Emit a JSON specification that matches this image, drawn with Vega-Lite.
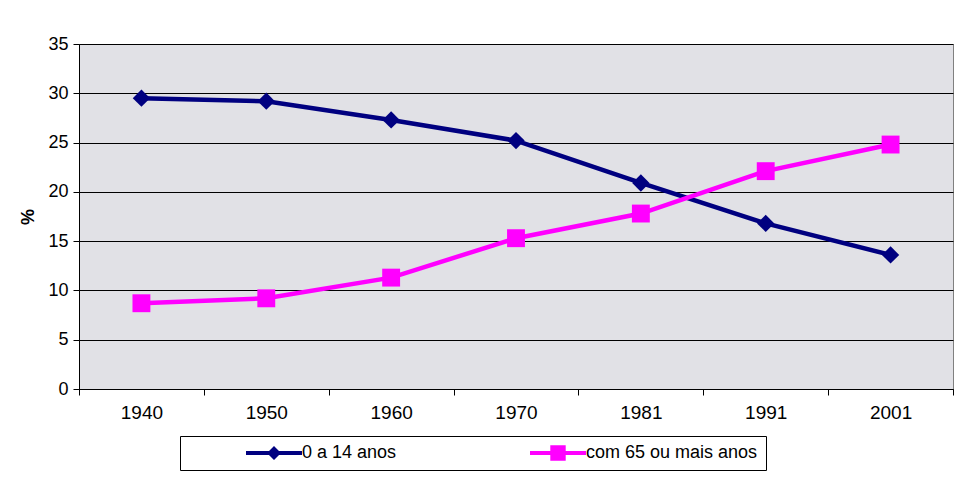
{
  "$schema": "https://vega.github.io/schema/vega-lite/v6.json",
  "width": 874,
  "height": 345,
  "autosize": {"type": "none"},
  "padding": {"left": 79, "top": 44, "right": 10, "bottom": 96},
  "background": "white",
  "config": {
    "font": "Liberation Sans",
    "view": {"fill": "#e1e1e6", "stroke": "#808080", "strokeWidth": 1},
    "legend": {
      "orient": "none", "legendX": 101, "legendY": 392, "direction": "horizontal",
      "columns": 2, "title": null, "labelFontSize": 18, "labelColor": "#000", "labelLimit": 500,
      "labelOffset": 19, "symbolOffset": 77, "columnPadding": 75, "padding": 8,
      "fillColor": "white", "strokeColor": "#000", "strokeWidth": 1,
      "symbolSize": 196, "symbolStrokeWidth": 0, "symbolOpacity": 1
    }
  },
  "data": {
    "values": [
      {"year": "1940", "series": "0 a 14 anos", "value": 29.5},
      {"year": "1950", "series": "0 a 14 anos", "value": 29.2},
      {"year": "1960", "series": "0 a 14 anos", "value": 27.3},
      {"year": "1970", "series": "0 a 14 anos", "value": 25.2},
      {"year": "1981", "series": "0 a 14 anos", "value": 20.9},
      {"year": "1991", "series": "0 a 14 anos", "value": 16.8},
      {"year": "2001", "series": "0 a 14 anos", "value": 13.6},
      {"year": "1940", "series": "com 65 ou mais anos", "value": 8.7},
      {"year": "1950", "series": "com 65 ou mais anos", "value": 9.2},
      {"year": "1960", "series": "com 65 ou mais anos", "value": 11.3},
      {"year": "1970", "series": "com 65 ou mais anos", "value": 15.3},
      {"year": "1981", "series": "com 65 ou mais anos", "value": 17.8},
      {"year": "1991", "series": "com 65 ou mais anos", "value": 22.1},
      {"year": "2001", "series": "com 65 ou mais anos", "value": 24.8}
    ]
  },
  "encoding": {
    "x": {
      "field": "year", "type": "ordinal", "sort": null,
      "scale": {"type": "band", "paddingInner": 0, "paddingOuter": 0},
      "axis": {
        "title": null, "labelAngle": 0, "labelFontSize": 19, "labelColor": "#000",
        "labelPadding": 8, "tickBand": "extent", "tickSize": 6, "tickColor": "#000",
        "domainColor": "#000", "grid": false
      }
    },
    "y": {
      "field": "value", "type": "quantitative",
      "scale": {"domain": [0, 35], "nice": false},
      "axis": {
        "title": "%", "titleFontSize": 18, "titleFontWeight": "bold", "titleColor": "#000",
        "titlePadding": 10,
        "values": [0, 5, 10, 15, 20, 25, 30, 35],
        "labelFontSize": 18, "labelColor": "#000", "labelPadding": 5,
        "tickSize": 6, "tickColor": "#000", "domainColor": "#000",
        "grid": true, "gridColor": "#000", "gridWidth": 1, "gridOpacity": 1
      }
    },
    "color": {
      "field": "series", "type": "nominal",
      "scale": {"domain": ["0 a 14 anos", "com 65 ou mais anos"], "range": ["#000080", "#FF00FF"]}
    }
  },
  "layer": [
    {"mark": {"type": "line", "strokeWidth": 4.5}},
    {
      "transform": [{"filter": "datum.series === '0 a 14 anos'"}],
      "mark": {"type": "point", "shape": "diamond", "filled": true, "opacity": 1, "size": 300}
    },
    {
      "transform": [{"filter": "datum.series === 'com 65 ou mais anos'"}],
      "mark": {"type": "point", "shape": "square", "filled": true, "opacity": 1, "size": 320}
    },
    {
      "mark": {"type": "point", "filled": true, "opacity": 1, "size": 196, "clip": true},
      "encoding": {
        "y": {"datum": -30},
        "shape": {
          "field": "series", "type": "nominal",
          "scale": {
            "domain": ["0 a 14 anos", "com 65 ou mais anos"],
            "range": [
              "M-4,-0.3L4,-0.3L4,0.3L-4,0.3Z M-1,0L0,-1L1,0L0,1Z",
              "M-4,-0.3L4,-0.3L4,0.3L-4,0.3Z M-1.1,-1.1L1.1,-1.1L1.1,1.1L-1.1,1.1Z"
            ]
          }
        }
      }
    }
  ]
}
